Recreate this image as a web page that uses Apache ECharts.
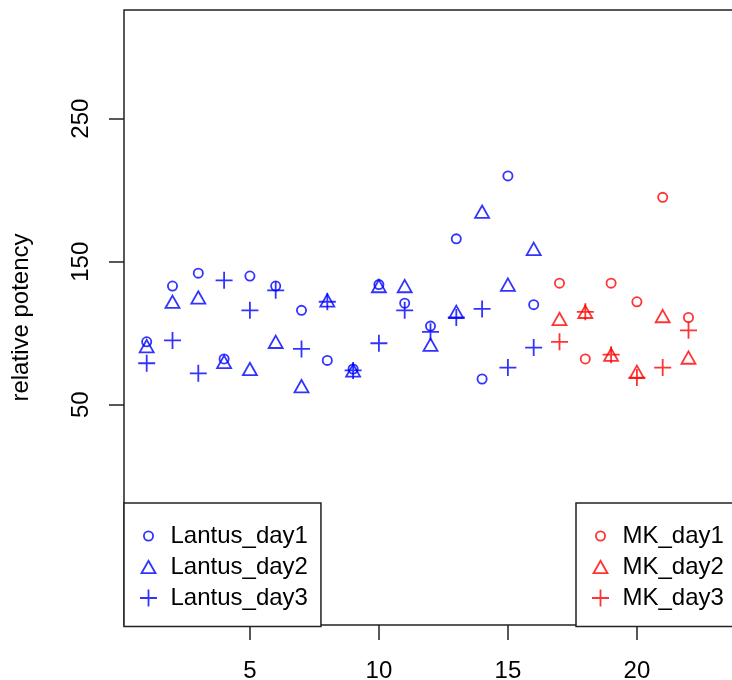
<!DOCTYPE html>
<html>
<head>
<meta charset="utf-8">
<script src="https://cdn.jsdelivr.net/npm/echarts@6/dist/echarts.min.js"></script>
<style>
  html, body { margin: 0; padding: 0; background: #fff; }
  #chart { width: 732px; height: 680px; }
</style>
</head>
<body>
<div id="chart"></div>
<script>
// Sample index (1..16 Lantus, 17..22 MK)
const lantusIdx = [1, 2, 3, 4, 5, 6, 7, 8, 9, 10, 11, 12, 13, 14, 15, 16];
const mkIdx = [17, 18, 19, 20, 21, 22];

// Relative potency per day
const lantusDay1 = [94, 133, 142, 82, 140, 133, 116, 81, 75, 134, 121, 105, 166, 68, 210, 120];
const lantusDay2 = [91, 122, 125, 80, 75, 94, 63, 123, 74, 133, 133, 92, 115, 185, 134, 159];
const lantusDay3 = [79, 95, 72, 137, 116, 130, 89, 122, 74, 93, 116, 101, 111, 117, 76, 90];
const mkDay1 = [135, 82, 135, 122, 195, 111];
const mkDay2 = [110, 115, 85, 73, 112, 83];
const mkDay3 = [94, 115, 85, 69, 76, 102];

// Axis tick positions
const xTicks = [5, 10, 15, 20];
const yTicks = [50, 150, 250];

const FONT = 'Liberation Sans, Arial, sans-serif';
const INK = '#222';

// Open plotting symbols drawn on a 20x20 box (the leading moves fix the box)
const SYM_CIRCLE = 'path://M0,0M20,20M14.6,10A4.6,4.6,0,1,1,5.4,10A4.6,4.6,0,1,1,14.6,10Z';
const SYM_TRIANGLE = 'path://M0,0M20,20M10,3.8L17,16.2L3,16.2Z';
const SYM_PLUS = 'path://M0,0M20,20M1.5,10L18.5,10M10,1.5L10,18.5';

function pairs(xs, ys) { return xs.map((x, i) => [x, ys[i]]); }

function scatter(name, xs, ys, symbol, color) {
  return {
    name: name,
    type: 'scatter',
    data: pairs(xs, ys),
    symbol: symbol,
    symbolSize: 20,
    itemStyle: { color: 'none', borderColor: color, borderWidth: 1.8 },
    emphasis: { disabled: true },
    silent: true
  };
}

function legendBox(left, names) {
  return {
    left: left,
    top: 503,
    orient: 'vertical',
    selectedMode: false,
    itemWidth: 34,
    itemHeight: 20,
    itemGap: 6,
    padding: [20.5, 13, 16, 12],
    borderColor: INK,
    borderWidth: 1.5,
    borderRadius: 0,
    backgroundColor: '#fff',
    itemStyle: { borderWidth: 1.8 },
    textStyle: { fontSize: 24, lineHeight: 20, color: '#000', fontFamily: FONT },
    data: names
  };
}

const chart = echarts.init(document.getElementById('chart'), null, { renderer: 'canvas' });

chart.setOption({
  animation: false,
  backgroundColor: '#fff',
  textStyle: { fontFamily: FONT },
  grid: {
    left: 124, top: 10, width: 613, height: 615,
    show: true, borderColor: INK, borderWidth: 1.5,
    containLabel: false, outerBoundsMode: 'none'
  },
  xAxis: {
    type: 'value', min: 0.12, max: 23.88,
    splitLine: { show: false },
    axisLine: { show: false, onZero: false },
    axisTick: { show: true, length: 15, customValues: xTicks, lineStyle: { color: INK, width: 1.5 } },
    axisLabel: { customValues: xTicks, margin: 34, fontSize: 24, color: '#000', fontFamily: FONT }
  },
  yAxis: {
    type: 'value', min: -104, max: 326,
    name: 'relative potency', nameLocation: 'middle', nameRotate: 90, nameGap: 91,
    nameTextStyle: { fontSize: 24, color: '#000', fontFamily: FONT, lineHeight: 24 },
    splitLine: { show: false },
    axisLine: { show: false, onZero: false },
    axisTick: { show: true, length: 15, customValues: yTicks, lineStyle: { color: INK, width: 1.5 } },
    axisLabel: { customValues: yTicks, rotate: 90, margin: 31, fontSize: 24, color: '#000', fontFamily: FONT, lineHeight: 24 }
  },
  legend: [
    legendBox(124, ['Lantus_day1', 'Lantus_day2', 'Lantus_day3']),
    legendBox(576, ['MK_day1', 'MK_day2', 'MK_day3'])
  ],
  series: [
    scatter('Lantus_day1', lantusIdx, lantusDay1, SYM_CIRCLE, '#0000ff'),
    scatter('Lantus_day2', lantusIdx, lantusDay2, SYM_TRIANGLE, '#0000ff'),
    scatter('Lantus_day3', lantusIdx, lantusDay3, SYM_PLUS, '#0000ff'),
    scatter('MK_day1', mkIdx, mkDay1, SYM_CIRCLE, '#ff0000'),
    scatter('MK_day2', mkIdx, mkDay2, SYM_TRIANGLE, '#ff0000'),
    scatter('MK_day3', mkIdx, mkDay3, SYM_PLUS, '#ff0000')
  ]
});
</script>
</body>
</html>
